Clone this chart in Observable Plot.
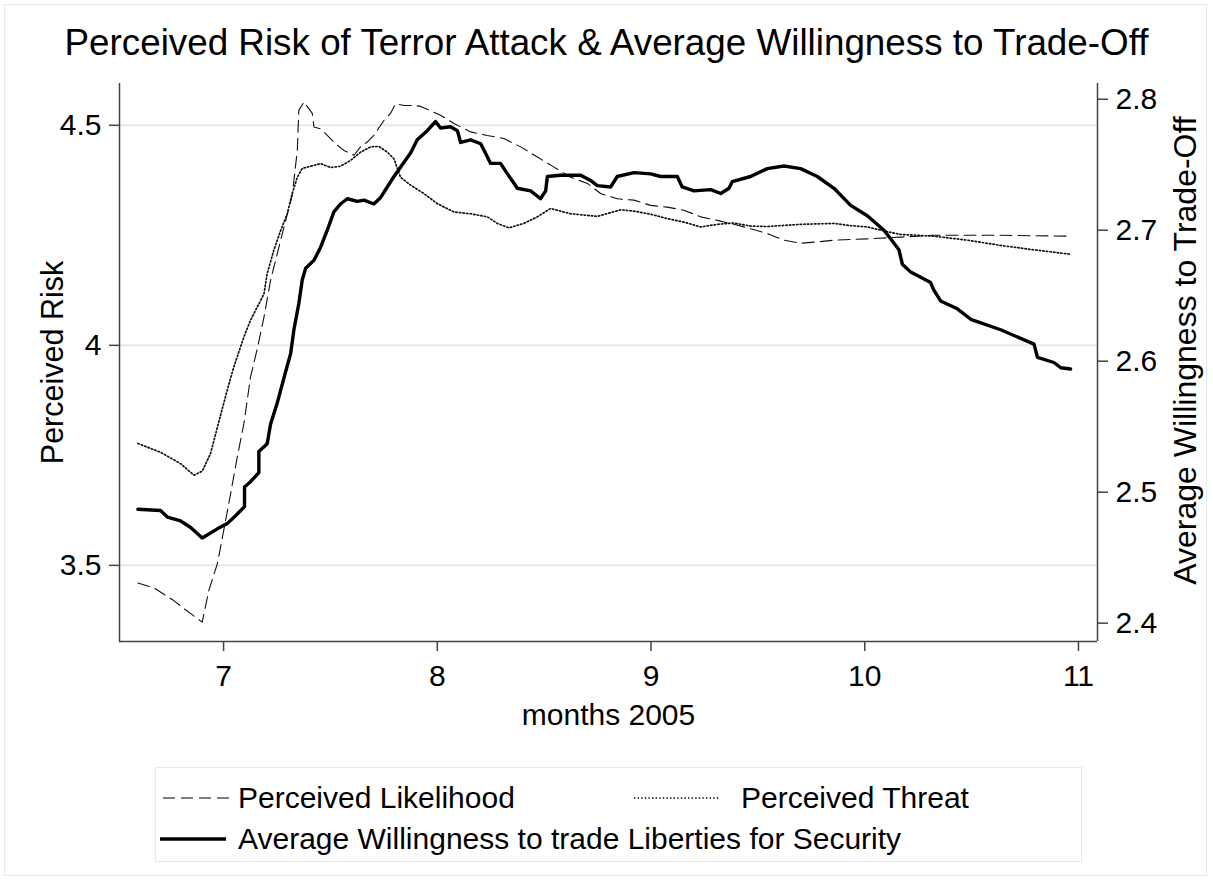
<!DOCTYPE html>
<html>
<head>
<meta charset="utf-8">
<script src="https://cdn.jsdelivr.net/npm/d3@7"></script>
<script src="https://cdn.jsdelivr.net/npm/@observablehq/plot@0.6"></script>
<style>
  html, body { margin: 0; padding: 0; background: #fff; }
  #page { position: relative; width: 1213px; height: 880px; font-family: "Liberation Sans", Arial, sans-serif; color: #000; }
  #border { position: absolute; left: 4px; top: 4px; width: 1201px; height: 870px; border: 1px solid #e2ebec; }
  #title { position: absolute; left: 0; top: 25px; width: 1213px; text-align: center; font-size: 36.8px; line-height: 36px; white-space: nowrap; }
  #chart { position: absolute; left: 0; top: 70px; }
  #legend { position: absolute; left: 155px; top: 767px; width: 925px; height: 93px; border: 1px solid #e2ebec; background: #fff; }
  .item { position: absolute; font-size: 30px; line-height: 30px; white-space: nowrap; }
  .item svg { position: absolute; }
</style>
</head>
<body>
<div id="page">
  <div id="border"></div>
  <div id="title">Perceived Risk of Terror Attack &amp; Average Willingness to Trade-Off</div>
  <div id="chart"></div>
  <div id="legend"></div>
</div>
<script>
// ---- Data ----
const likelihoodMonth = [6.599,6.674,6.767,6.814,6.900,6.931,6.971,7.001,7.033,7.064,7.095,7.126,7.158,7.189,7.220,7.267,7.321,7.345,7.352,7.376,7.415,7.423,7.454,7.485,7.524,7.563,7.610,7.641,7.672,7.703,7.750,7.781,7.805,7.844,7.891,7.922,7.969,8.015,8.078,8.156,8.234,8.312,8.390,8.468,8.546,8.624,8.702,8.764,8.842,8.920,8.998,9.076,9.154,9.232,9.310,9.388,9.466,9.544,9.622,9.700,9.778,9.856,10.012,10.168,10.324,10.636,10.963];
const likelihoodValue = [3.460,3.449,3.420,3.402,3.371,3.443,3.504,3.580,3.663,3.746,3.822,3.928,3.993,4.064,4.148,4.239,4.341,4.443,4.534,4.553,4.527,4.496,4.492,4.477,4.458,4.443,4.432,4.451,4.462,4.477,4.511,4.527,4.549,4.545,4.545,4.543,4.533,4.523,4.504,4.485,4.477,4.470,4.451,4.428,4.405,4.382,4.368,4.345,4.333,4.330,4.318,4.314,4.307,4.292,4.284,4.275,4.265,4.254,4.239,4.232,4.235,4.239,4.242,4.246,4.250,4.250,4.248];

const threatMonth = [6.599,6.705,6.799,6.861,6.900,6.939,6.971,7.017,7.048,7.095,7.126,7.189,7.204,7.235,7.267,7.298,7.321,7.345,7.368,7.423,7.454,7.501,7.547,7.594,7.641,7.688,7.727,7.766,7.797,7.828,7.875,7.937,8.000,8.078,8.156,8.234,8.281,8.335,8.405,8.468,8.530,8.624,8.749,8.858,8.920,8.998,9.076,9.154,9.232,9.310,9.388,9.466,9.544,9.700,9.856,9.934,10.012,10.090,10.168,10.324,10.480,10.636,10.792,10.963];
const threatValue = [3.777,3.757,3.731,3.705,3.714,3.754,3.814,3.898,3.951,4.019,4.057,4.117,4.163,4.216,4.261,4.299,4.345,4.382,4.402,4.409,4.413,4.404,4.407,4.420,4.439,4.451,4.452,4.439,4.424,4.382,4.364,4.345,4.322,4.303,4.299,4.292,4.277,4.267,4.277,4.292,4.311,4.299,4.293,4.308,4.305,4.298,4.288,4.280,4.269,4.275,4.278,4.271,4.270,4.275,4.277,4.272,4.269,4.260,4.252,4.248,4.239,4.227,4.217,4.207];

const willingMonth = [6.599,6.705,6.737,6.799,6.846,6.900,6.971,7.017,7.056,7.098,7.098,7.126,7.165,7.165,7.204,7.220,7.251,7.282,7.314,7.329,7.352,7.368,7.384,7.423,7.454,7.485,7.516,7.547,7.579,7.626,7.657,7.703,7.735,7.766,7.797,7.836,7.875,7.906,7.953,7.992,8.015,8.062,8.094,8.109,8.156,8.203,8.234,8.249,8.296,8.328,8.358,8.374,8.437,8.483,8.507,8.515,8.577,8.671,8.717,8.749,8.811,8.842,8.920,8.998,9.045,9.123,9.146,9.201,9.279,9.326,9.365,9.380,9.466,9.544,9.622,9.700,9.778,9.856,9.934,10.012,10.090,10.137,10.160,10.176,10.215,10.308,10.324,10.355,10.433,10.496,10.636,10.792,10.808,10.885,10.917,10.963];
const willingValue = [2.487,2.486,2.481,2.478,2.473,2.465,2.472,2.476,2.482,2.489,2.504,2.508,2.515,2.531,2.537,2.552,2.568,2.587,2.606,2.624,2.644,2.662,2.671,2.677,2.687,2.700,2.714,2.720,2.724,2.722,2.723,2.720,2.725,2.733,2.741,2.750,2.759,2.769,2.776,2.783,2.778,2.779,2.776,2.767,2.769,2.766,2.756,2.751,2.751,2.743,2.736,2.732,2.730,2.724,2.730,2.741,2.742,2.742,2.738,2.734,2.733,2.741,2.744,2.743,2.741,2.741,2.733,2.730,2.731,2.728,2.732,2.737,2.741,2.747,2.749,2.747,2.741,2.732,2.719,2.711,2.700,2.690,2.685,2.674,2.668,2.660,2.654,2.646,2.640,2.632,2.624,2.613,2.603,2.599,2.595,2.594];

const xTicks = [7, 8, 9, 10, 11];
const leftTicks = [3.5, 4, 4.5];
const rightTicks = [2.4, 2.5, 2.6, 2.7, 2.8];

const seriesNames = ["Perceived Likelihood", "Perceived Threat", "Average Willingness to trade Liberties for Security"];
const axisTitles = {x: "months 2005", left: "Perceived Risk", right: "Average Willingness to Trade-Off"};

// ---- Scales ----
const xDomain = [6.513, 11.089];
const leftDomain = [3.327, 4.595];
const rightDomain = [2.386, 2.812];
const toLeft = v => leftDomain[0] + (v - rightDomain[0]) / (rightDomain[1] - rightDomain[0]) * (leftDomain[1] - leftDomain[0]);

const likelihood = likelihoodMonth.map((m, i) => ({m, v: likelihoodValue[i]}));
const threat = threatMonth.map((m, i) => ({m, v: threatValue[i]}));
const willing = willingMonth.map((m, i) => ({m, v: toLeft(willingValue[i])}));

const axisColor = "#444";
const font = "Liberation Sans, Arial, sans-serif";

const chart = Plot.plot({
  width: 1213,
  height: 680,
  marginTop: 13,
  marginLeft: 119,
  marginRight: 116,
  marginBottom: 109,
  style: {fontFamily: font, color: "#000", background: "transparent", overflow: "visible"},
  x: {domain: xDomain},
  y: {domain: leftDomain},
  marks: [
    Plot.gridY(leftTicks, {stroke: "#e1ecee", strokeOpacity: 1, strokeWidth: 2}),
    Plot.line(likelihood, {x: "m", y: "v", stroke: "#111", strokeWidth: 1.1, strokeDasharray: "12,6"}),
    Plot.line(threat, {x: "m", y: "v", stroke: "#111", strokeWidth: 1.7, strokeDasharray: "1.4,2.2"}),
    Plot.line(willing, {x: "m", y: "v", stroke: "#000", strokeWidth: 3.4, strokeLinejoin: "round"}),
    Plot.ruleX([xDomain[0], xDomain[1]], {stroke: axisColor, strokeWidth: 1.5}),
    Plot.ruleY([leftDomain[0]], {stroke: axisColor, strokeWidth: 1.5}),
    Plot.axisY(leftTicks, {anchor: "left", tickSize: 10, tickPadding: 8, fontSize: 30, stroke: axisColor, strokeWidth: 1.5, label: null, tickFormat: d => String(d)}),
    Plot.axisY(rightTicks.map(toLeft), {anchor: "right", tickSize: 10, tickPadding: 8, fontSize: 30, stroke: axisColor, strokeWidth: 1.5, label: null, tickFormat: (d, i) => rightTicks[i].toFixed(1)}),
    Plot.axisX(xTicks, {anchor: "bottom", tickSize: 10, tickPadding: 13, fontSize: 30, stroke: axisColor, strokeWidth: 1.5, label: null, tickFormat: d => String(d)}),
    Plot.text([axisTitles.left], {frameAnchor: "left", dx: -66, rotate: -90, fontSize: 30.5, lineAnchor: "middle", textAnchor: "middle"}),
    Plot.text([axisTitles.right], {frameAnchor: "right", dx: 88, dy: -12, rotate: -90, fontSize: 32, lineAnchor: "middle", textAnchor: "middle"}),
    Plot.text([axisTitles.x], {frameAnchor: "bottom", dy: 74, fontSize: 30, lineAnchor: "middle", textAnchor: "middle"})
  ]
});
document.getElementById("chart").appendChild(chart);

// ---- Legend ----
const legend = document.getElementById("legend");
const items = [
  {name: seriesNames[0], left: 7, top: 15, sw: 66, dash: "12,6", w: 1.1, tx: 75},
  {name: seriesNames[1], left: 478, top: 15, sw: 85, dash: "1.4,2.2", w: 1.7, tx: 107},
  {name: seriesNames[2], left: 4, top: 56, sw: 66, dash: null, w: 3.4, tx: 78}
];
for (const it of items) {
  const div = document.createElement("div");
  div.className = "item";
  div.style.left = it.left + "px";
  div.style.top = it.top + "px";
  div.style.height = "30px";
  const ns = "http://www.w3.org/2000/svg";
  const svg = document.createElementNS(ns, "svg");
  svg.setAttribute("width", it.sw);
  svg.setAttribute("height", 30);
  svg.style.left = "0px";
  svg.style.top = "0px";
  const ln = document.createElementNS(ns, "line");
  ln.setAttribute("x1", 0); ln.setAttribute("x2", it.sw);
  ln.setAttribute("y1", 15); ln.setAttribute("y2", 15);
  ln.setAttribute("stroke", "#000");
  ln.setAttribute("stroke-width", it.w);
  if (it.dash) ln.setAttribute("stroke-dasharray", it.dash);
  svg.appendChild(ln);
  div.appendChild(svg);
  const span = document.createElement("span");
  span.textContent = it.name;
  span.style.position = "absolute";
  span.style.left = it.tx + "px";
  span.style.top = "0px";
  div.appendChild(span);
  legend.appendChild(div);
}
</script>
</body>
</html>
